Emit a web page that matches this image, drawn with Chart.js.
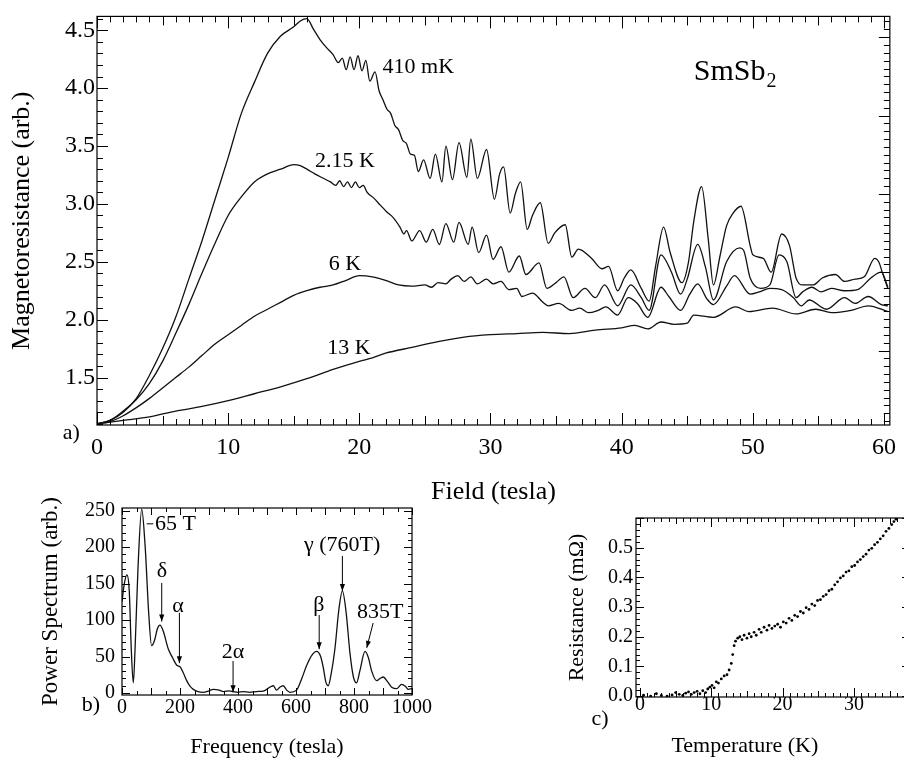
<!DOCTYPE html>
<html>
<head>
<meta charset="utf-8">
<script src="https://cdn.jsdelivr.net/npm/chart.js@4.4.1/dist/chart.umd.min.js"></script>
<style>
  html, body { margin: 0; padding: 0; background: #fff; overflow: hidden; }
  #page { position: relative; width: 904px; height: 761px; overflow: hidden; }
  canvas { position: absolute; }
</style>
</head>
<body>
<div id="page">
  <canvas id="mrChart" width="904" height="510" style="left:0;top:0"></canvas>
  <canvas id="fftChart" width="460" height="281" style="left:0;top:480px"></canvas>
  <canvas id="rtChart" width="380" height="281" style="left:540px;top:480px"></canvas>
</div>
<script>
// a) magnetoresistance vs field, one pair of arrays per temperature
const b410 = [0, 1, 2, 3, 4, 5, 6, 7, 8, 9, 10, 11, 12, 13, 14, 15, 15.5, 16, 16.5, 17, 17.5, 18, 18.4, 18.7, 19.0, 19.3, 19.6, 19.9, 20.2, 20.5, 20.8, 21.2, 21.5, 21.8, 22.1, 22.4, 22.7, 23.0, 23.3, 23.6, 23.9, 24.2, 24.5, 24.9, 25.4, 25.8, 26.3, 26.6, 27.1, 27.6, 28.2, 28.5, 29.0, 29.7, 30.3, 30.7, 31.0, 31.5, 31.9, 32.3, 32.8, 33.2, 33.8, 34.4, 34.9, 35.7, 36.2, 36.7, 37.7, 38.5, 39.0, 39.7, 40.2, 40.7, 41.5, 42.1, 42.6, 43.2, 43.7, 44.6, 45.1, 45.5, 46.1, 46.6, 47.0, 47.5, 48.0, 48.5, 49.1, 49.8, 50.0, 50.8, 51.4, 52.2, 52.8, 53.3, 53.8, 54.6, 55.3, 56.3, 57.0, 57.8, 58.5, 59.3, 59.6, 59.9, 60.3];
const r410 = [1.10, 1.13, 1.20, 1.32, 1.52, 1.75, 2.02, 2.35, 2.68, 3.04, 3.40, 3.78, 4.05, 4.30, 4.45, 4.53, 4.58, 4.60, 4.51, 4.42, 4.35, 4.29, 4.22, 4.26, 4.16, 4.27, 4.16, 4.28, 4.15, 4.24, 4.06, 4.14, 3.98, 3.90, 3.82, 3.78, 3.68, 3.64, 3.55, 3.52, 3.43, 3.42, 3.28, 3.38, 3.22, 3.43, 3.19, 3.50, 3.21, 3.53, 3.23, 3.56, 3.22, 3.47, 3.04, 3.26, 3.32, 2.92, 3.09, 3.19, 2.78, 2.90, 3.01, 2.66, 2.75, 2.82, 2.54, 2.61, 2.53, 2.44, 2.46, 2.25, 2.36, 2.43, 2.27, 2.16, 2.47, 2.80, 2.58, 2.32, 2.50, 2.85, 3.15, 2.70, 2.30, 2.55, 2.81, 2.92, 2.98, 2.64, 2.56, 2.53, 2.41, 2.74, 2.64, 2.36, 2.30, 2.30, 2.36, 2.39, 2.33, 2.35, 2.37, 2.53, 2.50, 2.40, 2.27];

const b215 = [0, 1, 2, 3, 4, 5, 6, 7, 8, 9, 10, 11, 12, 13, 14, 15, 15.5, 16, 16.6, 17.1, 17.8, 18.2, 18.5, 18.8, 19.1, 19.4, 19.7, 20.0, 20.3, 20.6, 21.1, 21.6, 22.1, 22.6, 23.1, 23.4, 23.6, 24.0, 24.6, 25.1, 25.6, 26.1, 26.6, 27.2, 27.6, 28.3, 28.6, 29.1, 29.7, 30.2, 30.8, 31.4, 32.2, 32.7, 33.7, 34.3, 35.0, 35.6, 36.3, 37.2, 38.0, 38.7, 39.7, 40.7, 41.5, 42.1, 43.0, 43.8, 44.5, 45.0, 45.8, 46.4, 47.0, 48.0, 49.0, 49.3, 49.8, 50.6, 51.3, 52.0, 52.6, 53.3, 53.8, 54.5, 55.2, 56.0, 57.0, 58.0, 59.0, 59.8, 60.3];
const r215 = [1.10, 1.13, 1.21, 1.31, 1.45, 1.64, 1.88, 2.13, 2.40, 2.66, 2.90, 3.06, 3.19, 3.26, 3.30, 3.34, 3.33, 3.30, 3.26, 3.23, 3.19, 3.16, 3.20, 3.15, 3.19, 3.14, 3.19, 3.14, 3.16, 3.10, 3.05, 2.99, 2.93, 2.88, 2.80, 2.74, 2.77, 2.68, 2.77, 2.67, 2.78, 2.65, 2.83, 2.67, 2.84, 2.65, 2.80, 2.58, 2.73, 2.52, 2.63, 2.41, 2.55, 2.39, 2.49, 2.27, 2.32, 2.37, 2.19, 2.27, 2.19, 2.30, 2.12, 2.30, 2.19, 2.08, 2.56, 2.41, 2.22, 2.35, 2.65, 2.45, 2.17, 2.50, 2.62, 2.60, 2.36, 2.27, 2.30, 2.56, 2.50, 2.19, 2.24, 2.28, 2.24, 2.27, 2.25, 2.26, 2.36, 2.41, 2.28];

const b6 = [0, 1, 2, 3, 4, 5, 6, 7, 8, 9, 10, 11, 12, 13, 14, 15, 16, 17, 18, 19, 20, 21, 22, 23, 24, 25, 25.5, 26, 26.6, 27.0, 27.5, 28.0, 28.5, 29.0, 29.7, 30.2, 30.8, 31.4, 32.0, 32.4, 33.2, 34.0, 34.4, 35.2, 36.2, 36.8, 37.5, 38.2, 38.8, 39.7, 40.5, 41.2, 42.0, 43.0, 43.6, 44.5, 45.2, 45.8, 46.5, 47.0, 48.0, 48.6, 49.8, 50.5, 51.3, 52.2, 53.1, 53.7, 54.3, 55.6, 57.0, 57.8, 58.8, 59.8, 60.3];
const r6 = [1.10, 1.12, 1.17, 1.24, 1.32, 1.41, 1.50, 1.59, 1.69, 1.79, 1.87, 1.95, 2.03, 2.09, 2.15, 2.21, 2.25, 2.28, 2.30, 2.34, 2.38, 2.37, 2.34, 2.30, 2.29, 2.30, 2.28, 2.32, 2.31, 2.35, 2.38, 2.33, 2.37, 2.31, 2.35, 2.31, 2.33, 2.26, 2.27, 2.20, 2.23, 2.15, 2.12, 2.14, 2.08, 2.10, 2.06, 2.08, 2.11, 2.04, 2.19, 2.14, 2.02, 2.28, 2.20, 2.08, 2.22, 2.31, 2.18, 2.13, 2.29, 2.38, 2.22, 2.24, 2.27, 2.26, 2.19, 2.12, 2.17, 2.09, 2.19, 2.14, 2.20, 2.13, 2.12];

const b13 = [0, 2, 4, 6, 8, 10, 12, 14, 16, 18, 20, 21, 22, 24, 26, 28, 30, 32, 34, 36, 38, 40, 41, 42, 43, 44, 45, 45.5, 47, 48.7, 49.7, 51.5, 53.3, 54.8, 56, 57.5, 58.8, 60.3];
const r13 = [1.10, 1.13, 1.16, 1.21, 1.25, 1.30, 1.36, 1.42, 1.49, 1.57, 1.64, 1.67, 1.71, 1.76, 1.81, 1.85, 1.87, 1.88, 1.89, 1.88, 1.91, 1.93, 1.95, 1.92, 1.98, 1.96, 1.97, 2.04, 2.02, 2.11, 2.07, 2.10, 2.05, 2.09, 2.06, 2.08, 2.12, 2.07];

const fieldTicks = [0, 10, 20, 30, 40, 50, 60];
const mrTicks = [1.5, 2.0, 2.5, 3.0, 3.5, 4.0, 4.5];

// b) power spectrum
const freq = [0, 8, 17, 25, 32, 39, 45, 55, 68, 80, 92, 102, 112, 122, 131, 142, 160, 175, 189, 200, 212, 223, 235, 246, 262, 280, 300, 315, 335, 350, 370, 384, 400, 418, 440, 464, 490, 510, 522, 533, 544, 556, 568, 579, 602, 620, 637, 655, 671, 685, 694, 703, 711, 722, 734, 748, 760, 773, 786, 798, 809, 820, 838, 850, 861, 878, 890, 901, 915, 930, 948, 964, 978, 987, 1000];
const power = [125, 150, 162, 140, 60, 14, 60, 170, 252, 200, 110, 65, 72, 88, 93, 85, 60, 48, 38, 36, 27, 17, 9, 5, 2, 1, 3, 5, 4, 2, 3, 2, 1, 2, 1, 2, 3, 8, 10, 4, 8, 10, 4, 1, 4, 20, 38, 52, 57, 50, 35, 15, 10, 28, 60, 115, 140, 110, 55, 22, 14, 30, 57, 48, 30, 17, 20, 22, 16, 8, 6, 12, 9, 5, 6];
const freqTicks = [0, 200, 400, 600, 800, 1000];
const powerTicks = [0, 50, 100, 150, 200, 250];

// c) resistance vs temperature
const tempK = [0.5, 1.5, 2.3, 3.0, 3.8, 4.5, 5.0, 5.5, 6.0, 6.4, 6.8, 7.2, 7.6, 8.0, 8.4, 8.8, 9.2, 9.5, 9.8, 10.1, 10.4, 10.7, 11.0, 11.4, 11.8, 12.2, 12.5, 12.8, 13.0, 13.2, 13.4, 13.7, 14.0, 14.3, 14.6, 15.0, 15.3, 15.6, 16.0, 16.3, 16.7, 17.0, 17.4, 17.8, 18.1, 18.5, 18.9, 19.3, 19.7, 20.1, 20.5, 20.9, 21.3, 21.7, 22.1, 22.5, 22.9, 23.3, 23.7, 24.1, 24.5, 24.9, 25.3, 25.7, 26.1, 26.5, 26.9, 27.3, 27.7, 28.1, 28.5, 28.9, 29.3, 29.7, 30.1, 30.5, 30.9, 31.3, 31.7, 32.1, 32.5, 32.9, 33.3, 33.7, 34.1, 34.5, 34.9, 35.3, 35.6, 35.9];
const resist = [0.003, 0.000, 0.008, 0.002, 0.000, 0.004, 0.012, 0.006, 0.002, 0.010, 0.014, 0.006, 0.012, 0.016, 0.008, 0.018, 0.012, 0.024, 0.030, 0.036, 0.028, 0.048, 0.044, 0.058, 0.068, 0.072, 0.088, 0.110, 0.140, 0.170, 0.185, 0.195, 0.200, 0.190, 0.205, 0.195, 0.210, 0.200, 0.215, 0.205, 0.225, 0.215, 0.232, 0.222, 0.238, 0.228, 0.236, 0.242, 0.232, 0.250, 0.246, 0.262, 0.255, 0.272, 0.268, 0.285, 0.280, 0.298, 0.292, 0.310, 0.305, 0.322, 0.325, 0.336, 0.342, 0.355, 0.360, 0.375, 0.385, 0.398, 0.405, 0.418, 0.422, 0.436, 0.440, 0.452, 0.460, 0.470, 0.478, 0.492, 0.498, 0.510, 0.518, 0.530, 0.540, 0.555, 0.565, 0.578, 0.588, 0.596];
const tempTicks = [0, 10, 20, 30];
const resTicks = [0.0, 0.1, 0.2, 0.3, 0.4, 0.5];

const SERIF = '"Liberation Serif", "Times New Roman", serif';
Chart.defaults.font.family = SERIF;
Chart.defaults.color = '#000';

function pairs(xs, ys) {
  return xs.map((x, i) => ({ x: x, y: ys[i] }));
}

function fixedTicks(list) {
  return s => { s.ticks = list.map(v => ({ value: v })); };
}

// frame, inward tick marks and in-plot annotations
const framePlugin = {
  id: 'frame',
  afterDraw(chart, args, opts) {
    const ctx = chart.ctx;
    const a = chart.chartArea;
    const sx = chart.scales.x, sy = chart.scales.y;
    ctx.save();
    ctx.strokeStyle = '#000';
    ctx.fillStyle = '#000';
    ctx.lineWidth = 1.2;
    ctx.strokeRect(a.left, a.top, a.right - a.left, a.bottom - a.top);

    ctx.lineWidth = 1;
    (opts.marks || []).forEach(t => {
      const s = chart.scales[t.scale];
      const lo = Math.ceil(s.min / t.every - 1e-6);
      const hi = Math.floor(s.max / t.every + 1e-6);
      for (let k = lo; k <= hi; k++) {
        const p = Math.round(s.getPixelForValue(k * t.every)) + 0.5;
        t.sides.forEach(side => {
          ctx.beginPath();
          if (side === 'bottom') { ctx.moveTo(p, a.bottom); ctx.lineTo(p, a.bottom - t.len); }
          if (side === 'top') { ctx.moveTo(p, a.top); ctx.lineTo(p, a.top + t.len); }
          if (side === 'left') { ctx.moveTo(a.left, p); ctx.lineTo(a.left + t.len, p); }
          if (side === 'right') { ctx.moveTo(a.right, p); ctx.lineTo(a.right - t.len, p); }
          ctx.stroke();
        });
      }
    });

    (opts.arrows || []).forEach(r => {
      const x1 = sx.getPixelForValue(r.x1), y1 = sy.getPixelForValue(r.y1);
      const x2 = sx.getPixelForValue(r.x2), y2 = sy.getPixelForValue(r.y2);
      ctx.beginPath();
      ctx.moveTo(x1, y1);
      ctx.lineTo(x2, y2);
      ctx.stroke();
      if (r.head !== false) {
        const ang = Math.atan2(y2 - y1, x2 - x1);
        const L = 7, W = 2.6;
        ctx.beginPath();
        ctx.moveTo(x2, y2);
        ctx.lineTo(x2 - L * Math.cos(ang) + W * Math.sin(ang), y2 - L * Math.sin(ang) - W * Math.cos(ang));
        ctx.lineTo(x2 - L * Math.cos(ang) - W * Math.sin(ang), y2 - L * Math.sin(ang) + W * Math.cos(ang));
        ctx.closePath();
        ctx.fill();
      }
    });

    (opts.labels || []).forEach(l => {
      const size = l.size || 22;
      const x = sx.getPixelForValue(l.x), y = sy.getPixelForValue(l.y);
      ctx.font = size + 'px ' + SERIF;
      ctx.textAlign = l.sub ? 'left' : (l.align || 'center');
      ctx.textBaseline = 'middle';
      ctx.fillText(l.text, x, y);
      if (l.sub) {
        const w = ctx.measureText(l.text).width;
        ctx.font = Math.round(size * 0.68) + 'px ' + SERIF;
        ctx.fillText(l.sub, x + w + 1, y + size * 0.33);
      }
    });
    ctx.restore();
  }
};

const lineStyle = { borderColor: '#111', borderWidth: 1.3, pointRadius: 0, cubicInterpolationMode: 'monotone' };
const hiddenGrid = { display: false, drawTicks: false };
const plainNum = v => String(v);

new Chart(document.getElementById('mrChart'), {
  type: 'line',
  data: {
    datasets: [
      Object.assign({ label: '410 mK', data: pairs(b410, r410) }, lineStyle),
      Object.assign({ label: '2.15 K', data: pairs(b215, r215) }, lineStyle),
      Object.assign({ label: '6 K', data: pairs(b6, r6) }, lineStyle),
      Object.assign({ label: '13 K', data: pairs(b13, r13) }, lineStyle)
    ]
  },
  options: {
    responsive: false,
    animation: false,
    layout: { padding: { top: 13, right: 7, left: 0, bottom: 0 } },
    plugins: {
      legend: { display: false },
      tooltip: { enabled: false },
      frame: {
        marks: [
          { scale: 'x', every: 1, len: 6, sides: ['bottom', 'top'] },
          { scale: 'x', every: 5, len: 9, sides: ['bottom', 'top'] },
          { scale: 'x', every: 10, len: 12, sides: ['bottom', 'top'] },
          { scale: 'y', every: 0.1, len: 6, sides: ['left'] },
          { scale: 'y', every: 0.5, len: 11, sides: ['left'] },
          { scale: 'y2', every: 0.1, len: 6, sides: ['right'] },
          { scale: 'y2', every: 1, len: 11, sides: ['right'] }
        ],
        labels: [
          { text: '410 mK', x: 24.5, y: 4.18 },
          { text: '2.15 K', x: 18.9, y: 3.37 },
          { text: '6 K', x: 18.9, y: 2.48 },
          { text: '13 K', x: 19.2, y: 1.75 },
          { text: 'SmSb', sub: '2', x: 45.5, y: 4.14, size: 30 },
          { text: 'a)', x: -1.96, y: 1.02 }
        ]
      }
    },
    scales: {
      x: {
        type: 'linear', min: 0, max: 60.45,
        afterBuildTicks: fixedTicks(fieldTicks),
        afterFit: s => { s.height = 85; },
        grid: hiddenGrid, border: { display: false },
        ticks: { font: { size: 24 }, padding: 8, maxRotation: 0, callback: plainNum },
        title: { display: true, text: 'Field (tesla)', font: { size: 26 }, padding: { top: 0, bottom: 2 } }
      },
      y: {
        min: 1.09, max: 4.62,
        afterBuildTicks: fixedTicks(mrTicks),
        afterFit: s => { s.width = 97; },
        grid: hiddenGrid, border: { display: false },
        ticks: { font: { size: 24 }, padding: 2, callback: v => v.toFixed(1) },
        title: { display: true, text: 'Magnetoresistance (arb.)', font: { size: 26 }, padding: { top: 7, bottom: 0 } }
      },
      y2: { position: 'right', display: false, min: -0.95, max: 4.265 }
    }
  },
  plugins: [framePlugin]
});

new Chart(document.getElementById('fftChart'), {
  type: 'line',
  data: {
    datasets: [Object.assign({ label: 'Power', data: pairs(freq, power) }, lineStyle)]
  },
  options: {
    responsive: false,
    animation: false,
    layout: { padding: { top: 28, right: 48, left: 0, bottom: 0 } },
    plugins: {
      legend: { display: false },
      tooltip: { enabled: false },
      frame: {
        marks: [
          { scale: 'x', every: 50, len: 4, sides: ['bottom', 'top'] },
          { scale: 'x', every: 100, len: 7, sides: ['bottom', 'top'] },
          { scale: 'y', every: 10, len: 4, sides: ['left', 'right'] },
          { scale: 'y', every: 50, len: 8, sides: ['left', 'right'] }
        ],
        arrows: [
          { x1: 85, y1: 232, x2: 108, y2: 232, head: false },
          { x1: 137, y1: 151, x2: 137, y2: 98 },
          { x1: 198, y1: 110, x2: 198, y2: 41 },
          { x1: 383, y1: 44, x2: 383, y2: 1 },
          { x1: 680, y1: 107, x2: 680, y2: 60 },
          { x1: 760, y1: 188, x2: 760, y2: 140 },
          { x1: 866, y1: 96, x2: 844, y2: 62 }
        ],
        labels: [
          { text: '65 T', x: 114, y: 232, align: 'left' },
          { text: 'δ', x: 138, y: 167 },
          { text: 'α', x: 193, y: 119 },
          { text: '2α', x: 383, y: 56 },
          { text: 'β', x: 679, y: 121 },
          { text: 'γ (760T)', x: 759, y: 202 },
          { text: '835T', x: 890, y: 111 },
          { text: 'b)', x: -107, y: -16.5 }
        ]
      }
    },
    scales: {
      x: {
        type: 'linear', min: 0, max: 1000,
        afterBuildTicks: fixedTicks(freqTicks),
        afterFit: s => { s.height = 66; },
        grid: hiddenGrid, border: { display: false },
        ticks: { font: { size: 20 }, padding: 1, maxRotation: 0, callback: plainNum },
        title: { display: true, text: 'Frequency (tesla)', font: { size: 22 }, padding: { top: 0, bottom: 1 } }
      },
      y: {
        min: -2.7, max: 253.7,
        afterBuildTicks: fixedTicks(powerTicks),
        afterFit: s => { s.width = 122; },
        grid: hiddenGrid, border: { display: false },
        ticks: { font: { size: 20 }, padding: 7, callback: plainNum },
        title: { display: true, text: 'Power Spectrum (arb.)', font: { size: 23 }, padding: { top: 37, bottom: 0 } }
      }
    }
  },
  plugins: [framePlugin]
});

new Chart(document.getElementById('rtChart'), {
  type: 'scatter',
  data: {
    datasets: [{
      label: 'R(T)', data: pairs(tempK, resist),
      pointRadius: 1.4, pointBackgroundColor: '#000', pointBorderWidth: 0, showLine: false
    }]
  },
  options: {
    responsive: false,
    animation: false,
    layout: { padding: { top: 38, right: 14, left: 0, bottom: 0 } },
    plugins: {
      legend: { display: false },
      tooltip: { enabled: false },
      frame: {
        marks: [
          { scale: 'x', every: 1, len: 4, sides: ['bottom', 'top'] },
          { scale: 'x', every: 5, len: 6, sides: ['bottom', 'top'] },
          { scale: 'x', every: 10, len: 9, sides: ['bottom', 'top'] },
          { scale: 'y', every: 0.02, len: 4, sides: ['left'] },
          { scale: 'y', every: 0.1, len: 8, sides: ['left'] },
          { scale: 'y', every: 0.1, len: 4, sides: ['right'] }
        ],
        labels: [
          { text: 'Temperature (K)', x: 14.7, y: -0.168 },
          { text: 'c)', x: -5.6, y: -0.077 }
        ]
      }
    },
    scales: {
      x: {
        type: 'linear', min: -0.56, max: 37.3,
        afterBuildTicks: fixedTicks(tempTicks),
        afterFit: s => { s.height = 64; },
        grid: hiddenGrid, border: { display: false },
        ticks: { font: { size: 20 }, padding: -4, maxRotation: 0, callback: plainNum }
      },
      y: {
        min: -0.003, max: 0.6,
        afterBuildTicks: fixedTicks(resTicks),
        afterFit: s => { s.width = 96; },
        grid: hiddenGrid, border: { display: false },
        ticks: { font: { size: 20 }, padding: 3, callback: v => v.toFixed(1) },
        title: { display: true, text: 'Resistance (mΩ)', font: { size: 22 }, padding: { top: 24, bottom: 0 } }
      }
    }
  },
  plugins: [framePlugin]
});
</script>
</body>
</html>
